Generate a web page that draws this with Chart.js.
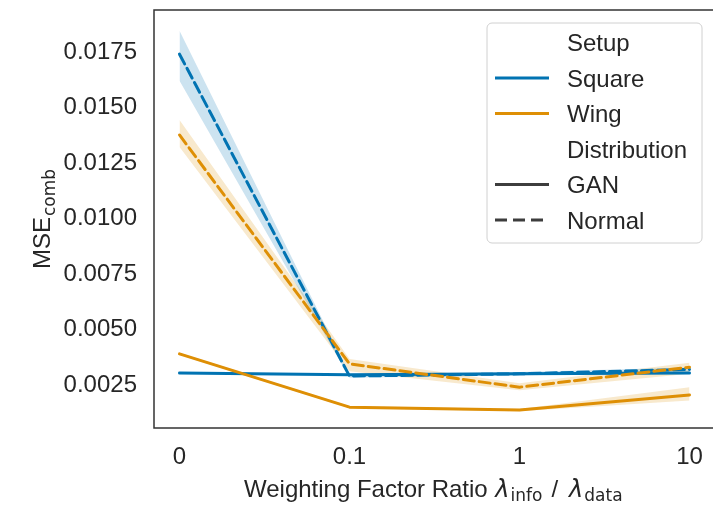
<!DOCTYPE html>
<html>
<head>
<meta charset="utf-8">
<script src="https://cdn.jsdelivr.net/npm/chart.js@4.4.1/dist/chart.umd.min.js"></script>
<style>
  html, body { margin: 0; padding: 0; background: #fff; overflow: hidden; }
  #wrap { position: relative; width: 720px; height: 505px; }
</style>
</head>
<body>
<div id="wrap"><canvas id="myChart"></canvas></div>
<script>
// x categories (weighting factor ratio)
const ratioLabels = ["0", "0.1", "1", "10"];
const yTickValues = [0.0025, 0.0050, 0.0075, 0.0100, 0.0125, 0.0150, 0.0175];

// Setup: Square
const squareGan = [0.00304, 0.00296, 0.00300, 0.00304];
const squareGanLo = [0.00301, 0.00293, 0.00297, 0.00301];
const squareGanHi = [0.00307, 0.00299, 0.00303, 0.00307];
const squareNormal = [0.0174, 0.0029, 0.0030, 0.0032];
const squareNormalLo = [0.0162, 0.00282, 0.00292, 0.00311];
const squareNormalHi = [0.01845, 0.00298, 0.00308, 0.00329];

// Setup: Wing
const wingGan = [0.0039, 0.0015, 0.00137, 0.00205];
const wingGanLo = [0.00385, 0.00145, 0.00132, 0.0018];
const wingGanHi = [0.00395, 0.00155, 0.00142, 0.0024];
const wingNormal = [0.01376, 0.00345, 0.0024, 0.0033];
const wingNormalLo = [0.01322, 0.00312, 0.00226, 0.0030];
const wingNormalHi = [0.01444, 0.00367, 0.00258, 0.0035];

const blue = "#0173b2";
const orange = "#de8f05";
const textColor = "#262626";
const FONT = "'Liberation Sans', Arial, sans-serif";
const MATH = "'DejaVu Sans', sans-serif";

const pts = arr => arr.map((v, i) => ({x: i, y: v}));

function band(lo, hi, color, idx) {
    return [
        {data: pts(lo), borderWidth: 0, pointRadius: 0, fill: false, order: 10},
        {data: pts(hi), borderWidth: 0, pointRadius: 0, backgroundColor: color,
         fill: {target: idx}, order: 10}
    ];
}
function line(vals, color, dashed, order) {
    return {data: pts(vals), borderColor: color, borderWidth: 3, pointRadius: 0,
            borderDash: dashed ? [11, 5] : [], fill: false, order: order,
            borderJoinStyle: "round", borderCapStyle: "round"};
}

const datasets = [
    ...band(squareGanLo, squareGanHi, "rgba(1,115,178,0.2)", 0),
    ...band(squareNormalLo, squareNormalHi, "rgba(1,115,178,0.2)", 2),
    ...band(wingGanLo, wingGanHi, "rgba(222,143,5,0.2)", 4),
    ...band(wingNormalLo, wingNormalHi, "rgba(222,143,5,0.2)", 6),
    line(squareGan, blue, false, 4),
    line(squareNormal, blue, true, 3),
    line(wingGan, orange, false, 2),
    line(wingNormal, orange, true, 1)
];

const framePlugin = {
    id: "frame",
    afterDatasetsDraw(chart) {
        const a = chart.chartArea, ctx = chart.ctx;
        ctx.save();
        ctx.strokeStyle = "#333333";
        ctx.lineWidth = 1.5;
        ctx.strokeRect(a.left, a.top, a.right - a.left, a.bottom - a.top);
        ctx.restore();
    }
};

const textPlugin = {
    id: "texts",
    afterDraw(chart) {
        const ctx = chart.ctx;
        ctx.save();
        ctx.fillStyle = textColor;
        ctx.textBaseline = "alphabetic";

        // y axis title: MSE_comb, rotated
        ctx.save();
        ctx.translate(50, 219);
        ctx.rotate(-Math.PI / 2);
        ctx.font = "24px " + FONT;
        const wMain = ctx.measureText("MSE").width;
        ctx.font = "17px " + MATH;
        const wSub = ctx.measureText("comb").width;
        let sx = -(wMain + wSub + 1) / 2;
        ctx.font = "24px " + FONT;
        ctx.textAlign = "left";
        ctx.fillText("MSE", sx, 0);
        ctx.font = "17px " + MATH;
        ctx.fillText("comb", sx + wMain + 1, 5);
        ctx.restore();

        // x axis title with lambda subscripts
        const parts = [
            {t: "Weighting Factor Ratio ", f: "24px " + FONT, dy: 0, gap: 1},
            {t: "\u03bb", f: "italic 24px " + MATH, dy: 0, gap: 1},
            {t: "info", f: "17px " + MATH, dy: 4, gap: 9},
            {t: "/", f: "24px " + FONT, dy: 0, gap: 11},
            {t: "\u03bb", f: "italic 24px " + MATH, dy: 0, gap: 1},
            {t: "data", f: "17px " + MATH, dy: 4, gap: 0}
        ];
        let x = 244;
        ctx.textAlign = "left";
        parts.forEach(p => {
            ctx.font = p.f;
            ctx.fillText(p.t, x, 497 + p.dy);
            x += ctx.measureText(p.t).width + p.gap;
        });

        // legend
        const bx = 487, by = 23, bw = 215, bh = 220;
        ctx.beginPath();
        ctx.roundRect(bx, by, bw, bh, 5);
        ctx.fillStyle = "rgba(255,255,255,0.85)";
        ctx.fill();
        ctx.strokeStyle = "#d0d0d0";
        ctx.lineWidth = 1;
        ctx.stroke();

        const entries = [
            {label: "Setup", color: null, dash: null},
            {label: "Square", color: blue, dash: []},
            {label: "Wing", color: orange, dash: []},
            {label: "Distribution", color: null, dash: null},
            {label: "GAN", color: "#3d3d3d", dash: []},
            {label: "Normal", color: "#3d3d3d", dash: [12, 6]}
        ];
        ctx.font = "24px " + FONT;
        entries.forEach((e, i) => {
            const base = 51 + i * 35.5;
            if (e.color) {
                ctx.beginPath();
                ctx.setLineDash(e.dash);
                ctx.strokeStyle = e.color;
                ctx.lineWidth = 3;
                ctx.moveTo(495, base - 8.5);
                ctx.lineTo(549, base - 8.5);
                ctx.stroke();
                ctx.setLineDash([]);
            }
            ctx.fillStyle = textColor;
            ctx.fillText(e.label, 567, base);
        });
        ctx.restore();
    }
};

new Chart("myChart", {
    type: "line",
    data: {datasets: datasets},
    plugins: [framePlugin, textPlugin],
    options: {
        responsive: true,
        maintainAspectRatio: false,
        animation: false,
        events: [],
        layout: {padding: {top: 10, right: 5, left: 0, bottom: 0}},
        plugins: {
            legend: {display: false},
            tooltip: {enabled: false}
        },
        scales: {
            x: {
                type: "linear",
                min: -0.15,
                max: 3.15,
                afterBuildTicks: scale => { scale.ticks = ratioLabels.map((_, i) => ({value: i})); },
                afterFit: scale => {
                    scale.height = 77;
                    scale.paddingLeft = 0; scale.paddingRight = 0;
                },
                grid: {display: false, drawTicks: false},
                border: {display: false},
                ticks: {
                    callback: v => ratioLabels[v],
                    font: {size: 24, family: FONT},
                    color: textColor,
                    padding: 15,
                    maxRotation: 0
                }
            },
            y: {
                min: 0.00056,
                max: 0.01939,
                afterBuildTicks: scale => { scale.ticks = yTickValues.map(v => ({value: v})); },
                afterFit: scale => {
                    scale.width = 154;
                    scale.paddingTop = 0; scale.paddingBottom = 0;
                },
                grid: {display: false, drawTicks: false},
                border: {display: false},
                ticks: {
                    callback: v => v.toFixed(4),
                    font: {size: 24, family: FONT},
                    color: textColor,
                    padding: 17
                }
            }
        }
    }
});
</script>
</body>
</html>
